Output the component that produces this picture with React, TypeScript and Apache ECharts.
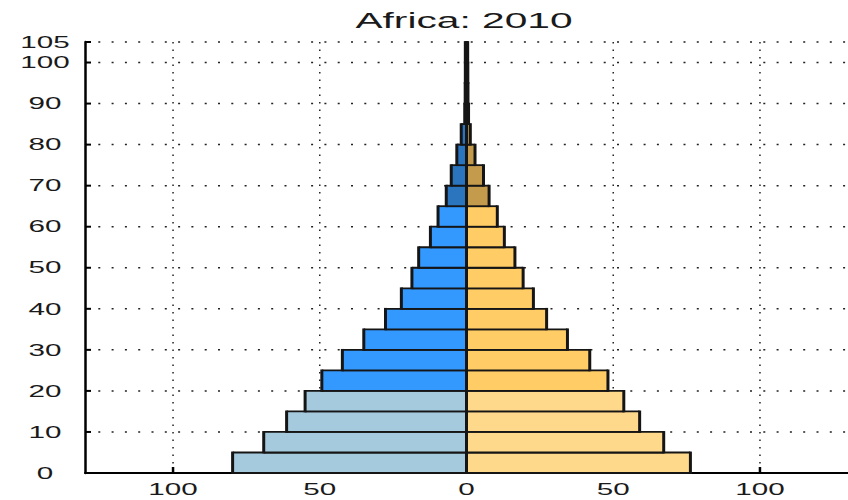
import React, { useEffect, useRef } from "react";
import * as echarts from "echarts";

const TITLE = "Africa: 2010";
const AGE_STARTS = [0, 5, 10, 15, 20, 25, 30, 35, 40, 45, 50, 55, 60, 65, 70, 75, 80, 85, 90, 95, 100];
const MALE = [79.7, 69.1, 61.3, 55.0, 49.3, 42.3, 35.0, 27.6, 22.2, 18.6, 16.3, 12.3, 9.7, 6.9, 5.2, 3.3, 1.8, 0.6, 0.45, 0.4, 0.4];
const FEMALE = [76.3, 67.2, 59.0, 53.6, 48.2, 42.0, 34.4, 27.3, 22.8, 19.3, 16.5, 12.9, 10.5, 7.7, 5.8, 2.9, 1.3, 0.7, 0.5, 0.45, 0.4];
const X_TICKS = [-100, -50, 0, 50, 100];
const Y_TICKS = [0, 10, 20, 30, 40, 50, 60, 70, 80, 90, 100, 105];
const X_MIN = -130;
const X_MAX = 130;
const Y_MIN = 0;
const Y_MAX = 105;
const BIN = 5;

const MALE_COLORS = ["#A6CADD", "#3399FF", "#2B75BF"];
const FEMALE_COLORS = ["#FFD98B", "#FFCC66", "#C49A4C"];

const FONT = '"Liberation Sans", Arial, sans-serif';
const SX = 1.85;
const EDGE = "#151515";

function groupOf(age: number) {
  return age < 20 ? 0 : age < 65 ? 1 : 2;
}

function barsRender(colors: string[]) {
  return (params: any, api: any) => {
    const start = api.value(1);
    const v = api.value(0);
    const p0 = api.coord([0, start]);
    const p1 = api.coord([v, start + BIN]);
    const x1 = Math.min(p0[0], p1[0]);
    const x2 = Math.max(p0[0], p1[0]);
    const y1 = Math.min(p0[1], p1[1]);
    const y2 = Math.max(p0[1], p1[1]);
    return {
      type: "group",
      children: [
        {
          type: "rect",
          shape: { x: x1, y: y1, width: x2 - x1, height: y2 - y1 },
          style: { fill: colors[groupOf(start)], stroke: null },
        },
        {
          type: "line",
          shape: { x1: x1, y1: y1, x2: x2, y2: y1 },
          style: { stroke: EDGE, lineWidth: 1.8 },
        },
        {
          type: "line",
          shape: { x1: x1, y1: y2, x2: x2, y2: y2 },
          style: { stroke: EDGE, lineWidth: 1.8 },
        },
        {
          type: "line",
          shape: { x1: x1, y1: y1 - 0.9, x2: x1, y2: y2 + 0.9 },
          style: { stroke: EDGE, lineWidth: 3 },
        },
        {
          type: "line",
          shape: { x1: x2, y1: y1 - 0.9, x2: x2, y2: y2 + 0.9 },
          style: { stroke: EDGE, lineWidth: 3 },
        },
      ],
    };
  };
}

export default function App() {
  const ref = useRef<HTMLDivElement>(null);
  useEffect(() => {
    if (!ref.current) return;
    const chart = echarts.init(ref.current, null, { renderer: "svg" });
    const option: any = {
      animation: false,
      backgroundColor: "#ffffff",
      grid: { left: 85, top: 42, width: 766, height: 431 },
      xAxis: {
        type: "value",
        min: X_MIN,
        max: X_MAX,
        axisLine: { show: true, onZero: false, lineStyle: { color: "#000", width: 2 } },
        axisTick: { show: false },
        axisLabel: { show: false },
        splitLine: { show: false },
      },
      yAxis: {
        type: "value",
        min: Y_MIN,
        max: Y_MAX,
        axisLine: { show: true, onZero: false, lineStyle: { color: "#000", width: 2.5 } },
        axisTick: { show: false },
        axisLabel: { show: false },
        splitLine: { show: false },
      },
      graphic: [
        {
          type: "text",
          x: 464,
          y: 20,
          scaleX: SX,
          style: {
            text: TITLE,
            fontSize: 22,
            fontFamily: FONT,
            fill: "#1a1a1a",
            align: "center",
            verticalAlign: "middle",
          },
        },
      ],
      series: [
        {
          type: "custom",
          name: "xgrid",
          z: 1,
          silent: true,
          data: X_TICKS.map((v) => [v, 0]),
          encode: { x: 0, y: 1 },
          renderItem: (params: any, api: any) => {
            const v = api.value(0);
            const top = api.coord([v, Y_MAX]);
            const bot = api.coord([v, Y_MIN]);
            return {
              type: "group",
              children: [
                {
                  type: "line",
                  shape: { x1: top[0], y1: top[1], x2: bot[0], y2: bot[1] },
                  style: { stroke: "#222", lineWidth: 1.5, lineDash: [1.5, 6] },
                },
                {
                  type: "line",
                  shape: { x1: bot[0], y1: bot[1], x2: bot[0], y2: bot[1] - 6 },
                  style: { stroke: "#000", lineWidth: 2.5 },
                },
                {
                  type: "text",
                  x: bot[0],
                  y: bot[1] + 16,
                  scaleX: SX,
                  style: {
                    text: String(Math.abs(v)),
                    fontSize: 16,
                    fontFamily: FONT,
                    fill: "#1a1a1a",
                    align: "center",
                    verticalAlign: "middle",
                  },
                },
              ],
            };
          },
        },
        {
          type: "custom",
          name: "ygrid",
          z: 1,
          silent: true,
          data: Y_TICKS.map((v) => [0, v]),
          encode: { x: 0, y: 1 },
          renderItem: (params: any, api: any) => {
            const v = api.value(1);
            const l = api.coord([X_MIN, v]);
            const r = api.coord([X_MAX, v]);
            const children: any[] = [];
            if (v > Y_MIN) {
              children.push({
                type: "line",
                shape: { x1: l[0], y1: l[1], x2: r[0], y2: r[1] },
                style: { stroke: "#222", lineWidth: 1.5, lineDash: [2, 11.3] },
              });
            }
            children.push({
              type: "line",
              shape: { x1: l[0], y1: l[1], x2: l[0] + 6, y2: l[1] },
              style: { stroke: "#000", lineWidth: 2 },
            });
            children.push({
              type: "text",
              x: l[0] - 40,
              y: l[1],
              scaleX: SX,
              style: {
                text: String(v),
                fontSize: 16,
                fontFamily: FONT,
                fill: "#1a1a1a",
                align: "center",
                verticalAlign: "middle",
              },
            });
            return { type: "group", children };
          },
        },
        {
          type: "custom",
          name: "Male",
          z: 3,
          data: AGE_STARTS.map((a, i) => [-MALE[i], a]),
          encode: { x: 0, y: 1 },
          renderItem: barsRender(MALE_COLORS),
        },
        {
          type: "custom",
          name: "Female",
          z: 3,
          data: AGE_STARTS.map((a, i) => [FEMALE[i], a]),
          encode: { x: 0, y: 1 },
          renderItem: barsRender(FEMALE_COLORS),
        },
      ],
    };
    chart.setOption(option);
    return () => chart.dispose();
  }, []);
  return (
    <div
      ref={ref}
      style={{ position: "fixed", left: 0, top: 0, width: 848, height: 500, background: "#fff" }}
    />
  );
}
